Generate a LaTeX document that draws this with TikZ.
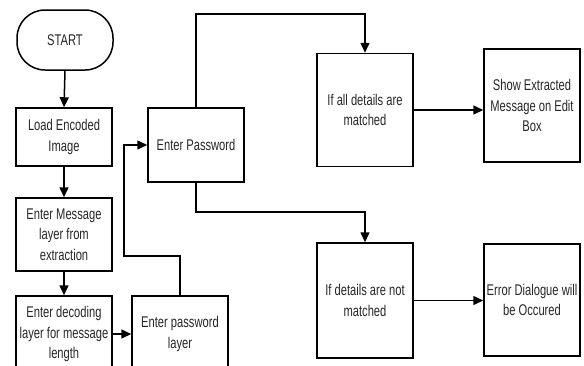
\documentclass[tikz,border=0pt]{standalone}
\usepackage{fontspec}
\setmainfont{Liberation Sans}[FakeStretch=0.72]
\usetikzlibrary{arrows.meta}
\tikzset{
  box/.style={draw=black, line width=1.5pt, minimum width=96pt, align=center,
    inner sep=0pt, text=black!85, font=\fontsize{15.5}{20.5}\selectfont},
  conn/.style={draw=black, line width=1.5pt},
  arr/.style={conn, -{Triangle[length=10pt,width=9pt]}}
}
\begin{document}
\begin{tikzpicture}[x=1pt,y=-1pt]
\useasboundingbox (0,0) rectangle (584,365);
\clip (0,0) rectangle (584,365);
\node[box, minimum height=60pt, rounded corners=28pt] (start) at (65,40) {START};
\node[box, minimum height=58pt] (load) at (64,137) {Load Encoded\\Image};
\node[box, minimum height=73pt] (msg) at (64,234.5) {Enter Message\\layer from\\extraction};
\node[box, minimum height=76pt] (dec) at (64,334) {Enter decoding\\layer for message\\length};
\node[box, minimum height=76pt] (pwl) at (180,334) {Enter password\\layer};
\node[box, minimum height=74pt] (pwd) at (196,145) {Enter Password};
\node[box, minimum height=113pt] (all) at (365,110) {If all details are\\matched};
\node[box, minimum height=113pt] (show) at (532,105.5) {Show Extracted\\Message on Edit\\Box};
\node[box, minimum height=115pt] (notm) at (365,300.5) {If details are not\\matched};
\node[box, minimum height=112pt] (err) at (532,300) {Error Dialogue will\\be Occured};

\coordinate (b1) at (180,256);
\coordinate (b2) at (124,256);
\coordinate (t1) at (196,14);
\coordinate (d1) at (196,212);

\draw[arr] (start.south) -- (load.north);
\draw[arr] (load.south) -- (msg.north);
\draw[arr] (msg.south) -- (dec.north);
\draw[arr] (dec.east) -- (pwl.west);
\draw[arr] (pwl.north) -- (b1) -- (b2) |- (pwd.west);
\draw[arr] (pwd.north) -- (t1) -| (all.north);
\draw[arr] (pwd.south) -- (d1) -| (notm.north);
\draw[arr] (all.east) -- (all.east -| show.west);
\draw[arr] (notm.east) -- (notm.east -| err.west);
\end{tikzpicture}
\end{document}
